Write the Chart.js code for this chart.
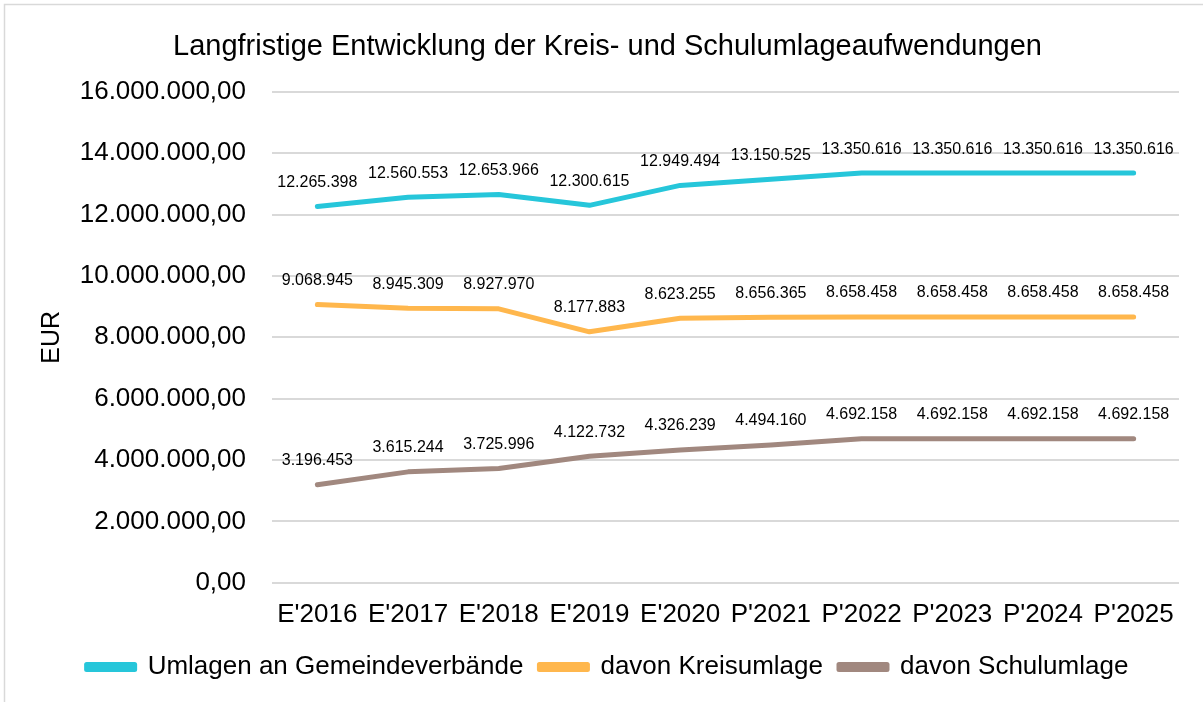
<!DOCTYPE html>
<html>
<head>
<meta charset="utf-8">
<script src="https://cdn.jsdelivr.net/npm/chart.js@4/dist/chart.umd.min.js"></script>
<style>
  html, body { margin: 0; padding: 0; background: #fff; }
  #wrap { width: 1203px; height: 702px; position: relative; }
</style>
</head>
<body>
<div id="wrap"><canvas id="chart" width="1203" height="702"></canvas></div>
<script>
const categories = ["E'2016", "E'2017", "E'2018", "E'2019", "E'2020", "P'2021", "P'2022", "P'2023", "P'2024", "P'2025"];
const umlagen = [12265398, 12560553, 12653966, 12300615, 12949494, 13150525, 13350616, 13350616, 13350616, 13350616];
const kreisumlage = [9068945, 8945309, 8927970, 8177883, 8623255, 8656365, 8658458, 8658458, 8658458, 8658458];
const schulumlage = [3196453, 3615244, 3725996, 4122732, 4326239, 4494160, 4692158, 4692158, 4692158, 4692158];
const seriesNames = ['Umlagen an Gemeindeverbände', 'davon Kreisumlage', 'davon Schulumlage'];

const FONT = "'Liberation Sans', Arial, sans-serif";

// 1234567 -> "1.234.567" (optional decimals with comma)
function fmtDe(v, dec) {
    const fixed = v.toFixed(dec);
    let [intPart, frac] = fixed.split('.');
    intPart = intPart.replace(/\B(?=(\d{3})+(?!\d))/g, '.');
    return frac ? intPart + ',' + frac : intPart;
}

// labels above each point
const pointLabels = {
    id: 'pointLabels',
    afterDatasetsDraw(chart) {
        const ctx = chart.ctx;
        ctx.save();
        ctx.font = '16px ' + FONT;
        ctx.fillStyle = '#000';
        ctx.textAlign = 'center';
        ctx.textBaseline = 'middle';
        chart.data.datasets.forEach((ds, i) => {
            chart.getDatasetMeta(i).data.forEach((pt, j) => {
                ctx.fillText(fmtDe(ds.data[j], 0), pt.x, pt.y - 24);
            });
        });
        ctx.restore();
    }
};

// thin frame like the office chart area
const frame = {
    id: 'frame',
    beforeDraw(chart) {
        const ctx = chart.ctx;
        ctx.save();
        ctx.strokeStyle = '#d9d9d9';
        ctx.lineWidth = 1.5;
        ctx.beginPath();
        ctx.moveTo(4.5, 702);
        ctx.lineTo(4.5, 4.5);
        ctx.lineTo(1203, 4.5);
        ctx.stroke();
        ctx.restore();
    }
};

const colors = ['#26c6da', '#ffb74d', '#a1887f'];
const seriesData = [umlagen, kreisumlage, schulumlage];

new Chart(document.getElementById('chart'), {
    type: 'line',
    data: {
        labels: categories,
        datasets: seriesData.map((d, i) => ({
            label: seriesNames[i],
            data: d,
            borderColor: colors[i],
            backgroundColor: colors[i],
            borderWidth: 5,
            borderCapStyle: 'round',
            borderJoinStyle: 'round',
            pointRadius: 0,
            tension: 0
        }))
    },
    options: {
        responsive: false,
        animation: false,
        layout: { padding: { left: 36, right: 24, top: 0, bottom: 12 } },
        plugins: {
            title: {
                display: true,
                text: 'Langfristige Entwicklung der Kreis- und Schulumlageaufwendungen',
                color: '#000',
                font: { family: FONT, size: 29, weight: 'normal' },
                padding: { top: 30, bottom: 27 }
            },
            legend: {
                position: 'bottom',
                labels: {
                    color: '#000',
                    font: { family: FONT, size: 26 },
                    boxWidth: 48,
                    boxHeight: 5,
                    padding: 16
                }
            },
            tooltip: { enabled: false }
        },
        scales: {
            x: {
                offset: true,
                grid: { display: false },
                border: { display: false },
                ticks: {
                    color: '#000',
                    font: { family: FONT, size: 26 },
                    padding: 8,
                    maxRotation: 0,
                    autoSkip: false
                }
            },
            y: {
                min: 0,
                max: 16000000,
                grid: { color: '#d9d9d9', lineWidth: 2, drawTicks: false },
                border: { display: false },
                ticks: {
                    stepSize: 2000000,
                    color: '#000',
                    font: { family: FONT, size: 26 },
                    padding: 26,
                    callback: v => fmtDe(v, 2)
                },
                title: {
                    display: true,
                    text: 'EUR',
                    color: '#000',
                    font: { family: FONT, size: 25 },
                    padding: { top: 1, bottom: 0 }
                },
                afterFit(scale) { scale.width = 236; }
            }
        }
    },
    plugins: [pointLabels, frame]
});
</script>
</body>
</html>
